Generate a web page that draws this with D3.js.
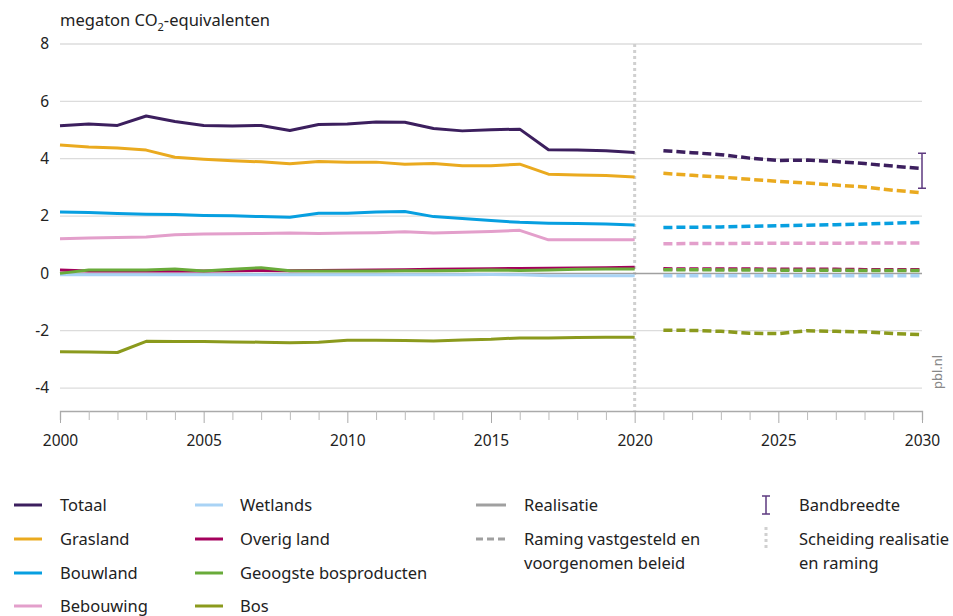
<!DOCTYPE html>
<html>
<head>
<meta charset="utf-8">
<script src="https://cdn.jsdelivr.net/npm/d3@7"></script>
<style>
  body { margin: 0; background: #fff; }
  svg { font-family: "Noto Sans", "Open Sans", sans-serif; }
</style>
</head>
<body>
<svg id="chart" width="953" height="616"></svg>
<script>
// data
let yearsReal = d3.range(2000, 2021);
let yearsProj = d3.range(2021, 2031);

let totaalReal   = [5.15, 5.21, 5.16, 5.49, 5.30, 5.16, 5.14, 5.16, 4.98, 5.19, 5.21, 5.28, 5.27, 5.05, 4.97, 5.01, 5.03, 4.31, 4.30, 4.28, 4.22];
let graslandReal = [4.48, 4.41, 4.37, 4.30, 4.05, 3.98, 3.93, 3.89, 3.82, 3.90, 3.88, 3.88, 3.81, 3.83, 3.75, 3.75, 3.81, 3.46, 3.43, 3.41, 3.36];
let bouwlandReal = [2.14, 2.12, 2.09, 2.06, 2.05, 2.02, 2.01, 1.98, 1.96, 2.10, 2.10, 2.14, 2.16, 1.98, 1.91, 1.84, 1.78, 1.75, 1.74, 1.72, 1.69];
let bebouwReal   = [1.21, 1.23, 1.25, 1.27, 1.35, 1.37, 1.38, 1.39, 1.41, 1.39, 1.41, 1.42, 1.45, 1.41, 1.43, 1.46, 1.50, 1.17, 1.17, 1.17, 1.17];
let wetlandsReal = [-0.05, -0.05, -0.05, -0.05, -0.05, -0.05, -0.05, -0.05, -0.05, -0.05, -0.05, -0.05, -0.05, -0.05, -0.05, -0.04, -0.05, -0.08, -0.08, -0.08, -0.08];
let overigReal   = [0.12, 0.08, 0.08, 0.08, 0.08, 0.08, 0.09, 0.10, 0.09, 0.10, 0.11, 0.12, 0.13, 0.14, 0.15, 0.16, 0.17, 0.18, 0.19, 0.20, 0.21];
let geoogstReal  = [0.00, 0.12, 0.12, 0.12, 0.15, 0.08, 0.14, 0.20, 0.09, 0.08, 0.08, 0.08, 0.09, 0.09, 0.10, 0.12, 0.10, 0.12, 0.14, 0.15, 0.15];
let bosReal      = [-2.73, -2.74, -2.76, -2.37, -2.38, -2.38, -2.39, -2.40, -2.42, -2.40, -2.33, -2.33, -2.34, -2.36, -2.32, -2.30, -2.25, -2.25, -2.24, -2.23, -2.23];

let totaalProj   = [4.28, 4.21, 4.14, 4.02, 3.94, 3.95, 3.90, 3.83, 3.74, 3.66];
let graslandProj = [3.49, 3.42, 3.36, 3.28, 3.21, 3.15, 3.08, 3.01, 2.90, 2.81];
let bouwlandProj = [1.60, 1.61, 1.62, 1.64, 1.66, 1.68, 1.70, 1.72, 1.75, 1.78];
let bebouwProj   = [1.03, 1.04, 1.04, 1.05, 1.05, 1.05, 1.05, 1.06, 1.06, 1.06];
let wetlandsProj = [-0.08, -0.08, -0.08, -0.08, -0.08, -0.08, -0.08, -0.08, -0.08, -0.08];
let overigProj   = [0.16, 0.15, 0.15, 0.15, 0.14, 0.14, 0.14, 0.13, 0.13, 0.13];
let geoogstProj  = [0.13, 0.13, 0.12, 0.12, 0.11, 0.11, 0.11, 0.10, 0.10, 0.10];
let bosProj      = [-1.98, -1.99, -2.02, -2.09, -2.10, -2.00, -2.02, -2.04, -2.10, -2.14];

let bandYear = 2030;
let bandRange = [2.97, 4.19];

let yTicks = [-4, -2, 0, 2, 4, 6, 8];
let xTicks = [2000, 2005, 2010, 2015, 2020, 2025, 2030];

let seriesNames  = ["Totaal", "Grasland", "Bouwland", "Bebouwing", "Wetlands", "Overig land", "Geoogste bosproducten", "Bos"];
let seriesColors = ["#3c1f5e", "#eaaa1f", "#079fe0", "#e39fcb", "#a9d3f5", "#a4005c", "#69ab3a", "#8b9a1d"];
let realData = [totaalReal, graslandReal, bouwlandReal, bebouwReal, wetlandsReal, overigReal, geoogstReal, bosReal];
let projData = [totaalProj, graslandProj, bouwlandProj, bebouwProj, wetlandsProj, overigProj, geoogstProj, bosProj];

// chart
let svg = d3.select("#chart");
let mLeft = 60, mRight = 922, mTop = 44, mBottom = 411;
let fs = 16.5;

let x = d3.scaleLinear().domain([2000, 2030]).range([mLeft, mRight]);
let y = d3.scaleLinear().domain([-4.8, 8]).range([mBottom, mTop]);

// grid
svg.append("g")
  .selectAll("line")
  .data(yTicks.filter(d => d !== 0))
  .join("line")
  .attr("x1", mLeft).attr("x2", mRight)
  .attr("y1", d => y(d)).attr("y2", d => y(d))
  .attr("stroke", "#dcdcdc")
  .attr("stroke-width", 1.3);

svg.append("g")
  .selectAll("text")
  .data(yTicks)
  .join("text")
  .attr("x", 49)
  .attr("y", d => y(d))
  .attr("dy", "0.35em")
  .attr("text-anchor", "end")
  .attr("font-size", 15.5)
  .attr("fill", "#222")
  .text(d => d);

// title
let title = svg.append("text")
  .attr("x", 60).attr("y", 26)
  .attr("font-size", fs)
  .attr("fill", "#222");
title.append("tspan").text("megaton CO");
title.append("tspan").attr("font-size", 11).attr("dy", 5).text("2");
title.append("tspan").attr("dy", -5).text("-equivalenten");

// x axis
let xAxis = d3.axisBottom(x)
  .tickValues(d3.range(2000, 2031))
  .tickSize(9)
  .tickFormat(d => xTicks.includes(d) ? d : "");

let gx = svg.append("g")
  .attr("transform", "translate(0," + mBottom + ")")
  .call(xAxis);
gx.select(".domain").attr("stroke", "#aaa").attr("stroke-width", 1.3);
gx.selectAll(".tick line").attr("stroke", "#bbb");
gx.selectAll(".tick")
  .filter(d => xTicks.includes(d))
  .select("line").attr("y2", 12).attr("stroke", "#aaa");
gx.selectAll(".tick text")
  .attr("y", 24)
  .attr("font-size", 15.5)
  .attr("font-family", "\"Noto Sans\", sans-serif")
  .attr("fill", "#222");

// separation line
svg.append("line")
  .attr("x1", x(2020)).attr("x2", x(2020))
  .attr("y1", mTop).attr("y2", mBottom)
  .attr("stroke", "#d0d0d0")
  .attr("stroke-width", 3)
  .attr("stroke-dasharray", "3,3");

// zero line
svg.append("line")
  .attr("x1", mLeft).attr("x2", mRight)
  .attr("y1", y(0)).attr("y2", y(0))
  .attr("stroke", "#a0a0a0")
  .attr("stroke-width", 1.5);

let line = d3.line()
  .x(d => x(d[0]))
  .y(d => y(d[1]));

// draw from back to front
let order = [4, 5, 6, 7, 3, 2, 1, 0];

order.forEach(function(i) {
  svg.append("path")
    .attr("fill", "none")
    .attr("stroke", seriesColors[i])
    .attr("stroke-width", 3)
    .attr("stroke-linejoin", "round")
    .attr("d", line(yearsReal.map((yr, j) => [yr, realData[i][j]])));
});

order.forEach(function(i) {
  svg.append("path")
    .attr("fill", "none")
    .attr("stroke", seriesColors[i])
    .attr("stroke-width", 3.5)
    .attr("stroke-dasharray", "9,4")
    .attr("d", line(yearsProj.map((yr, j) => [yr, projData[i][j]])));
});

// bandbreedte
let bx = x(bandYear);
svg.append("path")
  .attr("fill", "none")
  .attr("stroke", "#5e3a80")
  .attr("stroke-width", 1.5)
  .attr("d", "M" + (bx - 4) + "," + y(bandRange[1]) + "H" + (bx + 4) +
             "M" + bx + "," + y(bandRange[1]) + "V" + y(bandRange[0]) +
             "M" + (bx - 4) + "," + y(bandRange[0]) + "H" + (bx + 4));

// pbl.nl
svg.append("text")
  .attr("transform", "translate(942,389) rotate(-90)")
  .attr("font-size", 13)
  .attr("fill", "#888")
  .text("pbl.nl");

// legend
let legRows = [505, 539, 573, 606];
let legItems = seriesNames.map((n, i) => ({ name: n, color: seriesColors[i], col: Math.floor(i / 4), row: i % 4 }));
let colLine = [14, 195], colText = [60, 240];

let lg = svg.append("g");
legItems.forEach(function(d) {
  lg.append("line")
    .attr("x1", colLine[d.col]).attr("x2", colLine[d.col] + 28)
    .attr("y1", legRows[d.row]).attr("y2", legRows[d.row])
    .attr("stroke", d.color)
    .attr("stroke-width", 3);
  lg.append("text")
    .attr("x", colText[d.col]).attr("y", legRows[d.row])
    .attr("dy", "0.35em")
    .attr("font-size", fs)
    .attr("fill", "#222")
    .text(d.name);
});

// realisatie / raming
lg.append("line")
  .attr("x1", 476).attr("x2", 506)
  .attr("y1", legRows[0]).attr("y2", legRows[0])
  .attr("stroke", "#a0a0a0").attr("stroke-width", 3);
lg.append("text").attr("x", 524).attr("y", legRows[0]).attr("dy", "0.35em")
  .attr("font-size", fs).attr("fill", "#222").text("Realisatie");

lg.append("line")
  .attr("x1", 476).attr("x2", 506)
  .attr("y1", legRows[1]).attr("y2", legRows[1])
  .attr("stroke", "#a0a0a0").attr("stroke-width", 3)
  .attr("stroke-dasharray", "7,4");
lg.append("text").attr("x", 524).attr("y", legRows[1]).attr("dy", "0.35em")
  .attr("font-size", fs).attr("fill", "#222").text("Raming vastgesteld en");
lg.append("text").attr("x", 524).attr("y", legRows[1] + 24).attr("dy", "0.35em")
  .attr("font-size", fs).attr("fill", "#222").text("voorgenomen beleid");

// bandbreedte legend
let lbx = 766;
lg.append("path")
  .attr("fill", "none")
  .attr("stroke", "#5e3a80")
  .attr("stroke-width", 1.5)
  .attr("d", "M" + (lbx - 4) + "," + (legRows[0] - 9) + "H" + (lbx + 4) +
             "M" + lbx + "," + (legRows[0] - 9) + "V" + (legRows[0] + 9) +
             "M" + (lbx - 4) + "," + (legRows[0] + 9) + "H" + (lbx + 4));
lg.append("text").attr("x", 799).attr("y", legRows[0]).attr("dy", "0.35em")
  .attr("font-size", fs).attr("fill", "#222").text("Bandbreedte");

lg.append("line")
  .attr("x1", 766).attr("x2", 766)
  .attr("y1", legRows[1] - 12).attr("y2", legRows[1] + 12)
  .attr("stroke", "#d0d0d0").attr("stroke-width", 3)
  .attr("stroke-dasharray", "3,3");
lg.append("text").attr("x", 799).attr("y", legRows[1]).attr("dy", "0.35em")
  .attr("font-size", fs).attr("fill", "#222").text("Scheiding realisatie");
lg.append("text").attr("x", 799).attr("y", legRows[1] + 24).attr("dy", "0.35em")
  .attr("font-size", fs).attr("fill", "#222").text("en raming");
</script>
</body>
</html>
